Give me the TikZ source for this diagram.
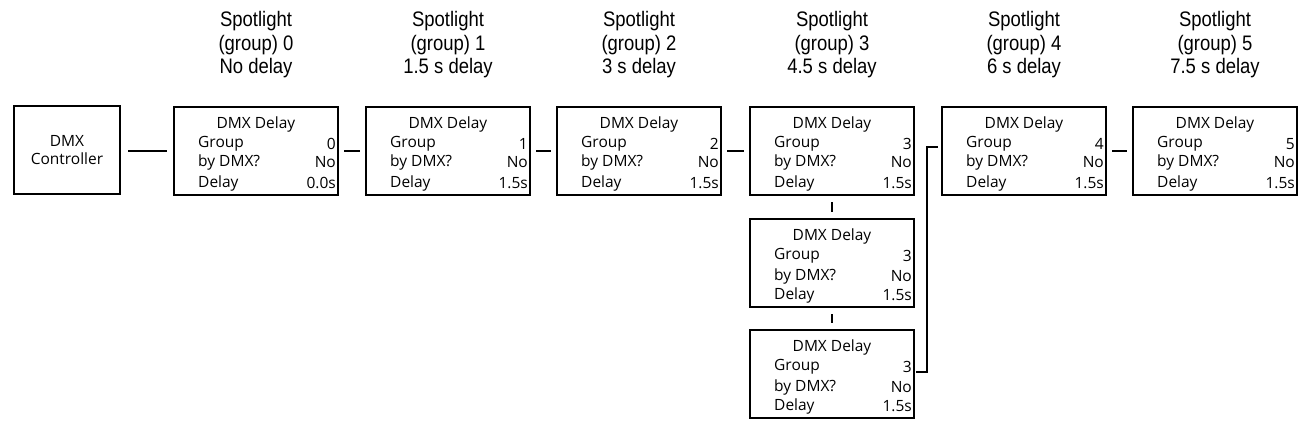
\documentclass[tikz,border=0pt]{standalone}
\usepackage{fontspec}
\setmainfont{Open Sans}
\newfontfamily\titlefont[FakeStretch=0.88]{Liberation Sans}
\begin{document}
\begin{tikzpicture}[x=1pt,y=-1pt,
  boxst/.style={draw,line width=2pt,minimum width=164pt,minimum height=88pt,inner sep=0pt},
  link/.style={line width=2pt},
  thinlink/.style={line width=1.1pt},
  txt/.style={font=\fontsize{15.5}{16}\selectfont,inner sep=0pt},
  ttl/.style={font=\titlefont\fontsize{21}{23.5}\selectfont,align=center,inner sep=0pt}]
\useasboundingbox (0,0) rectangle (1304,423);
\newcommand\dmxbox[6]{% name, cx, topy, group, delay, gap
  \node[boxst,anchor=north] (#1) at (#2,#3) {};
  \node[txt] (#1t) at ([yshift=-18pt]#1.north) {DMX Delay};
  \node[txt,anchor=west] (#1a) at ([xshift=25pt,yshift=-38pt]#1.north west) {Group};
  \node[txt,anchor=east] (#1av) at ([xshift=-3pt,yshift=-38pt]#1.north east) {#4};
  \node[txt,anchor=west] (#1b) at ([xshift=25pt,yshift=-(38pt+#6)]#1.north west) {by DMX?};
  \node[txt,anchor=east] (#1bv) at ([xshift=-3pt,yshift=-(38pt+#6)]#1.north east) {No};
  \node[txt,anchor=west] (#1c) at ([xshift=25pt,yshift=-77pt]#1.north west) {Delay};
  \node[txt,anchor=east] (#1cv) at ([xshift=-3pt,yshift=-77pt]#1.north east) {#5};
}
\node[draw,line width=2pt,minimum width=106pt,minimum height=88pt,align=center,
  font=\fontsize{15.5}{18}\selectfont] (ctrl) at (67,150) {DMX\\Controller};
\dmxbox{b0}{256}{106}{0}{0.0s}{18pt}
\dmxbox{b1}{448}{106}{1}{1.5s}{18pt}
\dmxbox{b2}{639}{106}{2}{1.5s}{18pt}
\dmxbox{b3}{832}{106}{3}{1.5s}{18pt}
\dmxbox{b4}{1024}{106}{4}{1.5s}{18pt}
\dmxbox{b5}{1215}{106}{5}{1.5s}{18pt}
\dmxbox{b3b}{832}{218}{3}{1.5s}{20pt}
\dmxbox{b3c}{832}{329}{3}{1.5s}{20pt}
\node[ttl] (t0) at (256,45) {Spotlight\\(group) 0\\No delay};
\node[ttl] (t1) at (448,45) {Spotlight\\(group) 1\\1.5 s delay};
\node[ttl] (t2) at (639,45) {Spotlight\\(group) 2\\3 s delay};
\node[ttl] (t3) at (832,45) {Spotlight\\(group) 3\\4.5 s delay};
\node[ttl] (t4) at (1024,45) {Spotlight\\(group) 4\\6 s delay};
\node[ttl] (t5) at (1215,45) {Spotlight\\(group) 5\\7.5 s delay};
\draw[link] ([xshift=7pt]ctrl.east |- b0.west) -- ([xshift=-6pt]b0.west);
\draw[link] ([xshift=5pt]b0.east) -- ([xshift=-5pt]b1.west);
\draw[link] ([xshift=5pt]b1.east) -- ([xshift=-5pt]b2.west);
\draw[link] ([xshift=5pt]b2.east) -- ([xshift=-5pt]b3.west);
\draw[link] ([xshift=5pt]b4.east) -- ([xshift=-5pt]b5.west);
\draw[thinlink] ([yshift=-6pt]b3.south) -- ([yshift=6pt]b3b.north);
\draw[thinlink] ([yshift=-6pt]b3b.south) -- ([yshift=6pt]b3c.north);
\coordinate (j1) at (927,372);
\coordinate (j2) at (927,147);
\draw[thinlink] ([xshift=1pt]b3c.east |- j1) -- (j1) -- (j2) -- ([xshift=-3pt]b4.west |- j2);
\end{tikzpicture}
\end{document}
